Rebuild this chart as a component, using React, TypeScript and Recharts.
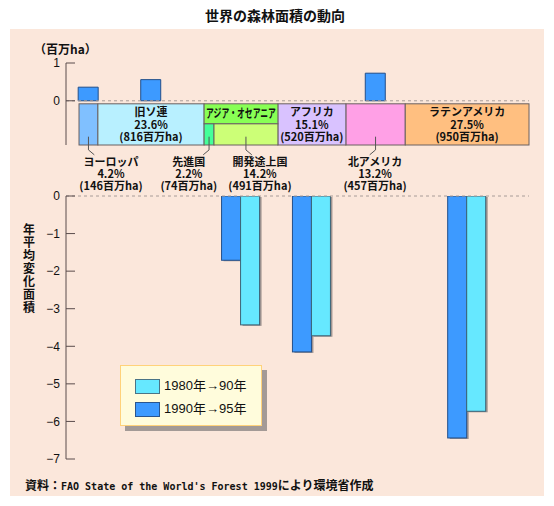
import {
    ComposedChart,
    Bar,
    XAxis,
    YAxis,
    ReferenceArea,
    ReferenceLine,
    ReferenceDot
} from "recharts";

// forest area share by region (%), and area (million ha)
const regions = ["ヨーロッパ", "旧ソ連", "先進国", "開発途上国", "アフリカ", "北アメリカ", "ラテンアメリカ"];
const shares = [4.2, 23.6, 2.2, 14.2, 15.1, 13.2, 27.5];
const areas = [146, 816, 74, 491, 520, 457, 950];

// bar groups (asia-oceania covers developed + developing)
const groups = ["ヨーロッパ", "旧ソ連", "アジア・オセアニア", "アフリカ", "北アメリカ", "ラテンアメリカ"];
const groupSpans = [[0], [1], [2, 3], [4], [5], [6]];
const change8090 = [null, null, -3.43, -3.72, null, -5.73];
const change9095 = [0.36, 0.56, -1.71, -4.15, 0.73, -6.44];

const topTicks = [0, 1];
const bottomTicks = [0, -1, -2, -3, -4, -5, -6, -7];

const legendItems = ["1980年→90年", "1990年→95年"];

const starts: number[] = [];
const ends: number[] = [];
shares.reduce((acc, s, i) => {
    starts.push(acc);
    ends.push(acc + s);
    return acc + s;
}, 0);

const centers = groupSpans.map(
    (span) => (starts[span[0]] + ends[span[span.length - 1]]) / 2
);

const rows = groups.map((g, i) => ({
    name: g,
    x: centers[i],
    a: change8090[i],
    b: change9095[i],
}));
const upRows = rows.filter((r) => r.b !== null && r.b > 0);
const downRows = rows.filter((r) => r.b !== null && r.b < 0);

const COLORS = ["#80C0FF", "#B8F0FF", "#44FF99", "#CCFF77", "#D9C2FF", "#FFA0E6", "#FFBF80"];
const ASIA_HEAD = "#88FF55";
const DARK = "#3D9AFF";
const CYAN = "#66E8FF";

const JP = "'Noto Sans CJK JP', 'Noto Sans', sans-serif";
const NUM = "'Liberation Sans', Arial, sans-serif";

const X_DOMAIN = [-2.89, 100];
const STRIP_TOP = -0.08;
const STRIP_MID = -0.61;
const STRIP_BOTTOM = -1.17;

const fmt = (v: number) => (v < 0 ? "\u2212" + Math.abs(v) : String(v));
const pct = (i: number) => `${shares[i].toFixed(1)}%`;
const ha = (i: number) => `(${areas[i]}百万ha)`;

// rect with text lines centred in it
const stripCell = (lines: string[]) => (p: any) => {
    const cx = p.x + p.width / 2;
    return (
        <g>
            <rect x={p.x} y={p.y} width={p.width} height={p.height} fill={p.fill} stroke="#6a6060" strokeWidth={1} />
            <text textAnchor="middle" fontSize={11} fontWeight="bold" fontFamily={JP} fill="#111">
                {lines.map((l, k) => (
                    <tspan key={k} x={cx} y={p.y + 12.5 + k * 12.5}>{l}</tspan>
                ))}
            </text>
        </g>
    );
};

const headerCell = (text: string) => (p: any) => (
    <g>
        <rect x={p.x} y={p.y} width={p.width} height={p.height} fill={p.fill} stroke="#6a6060" strokeWidth={1} />
        <text
            x={p.x + 2}
            y={p.y + p.height / 2 + 4}
            textLength={p.width - 4}
            lengthAdjust="spacingAndGlyphs"
            fontSize={12}
            fontWeight="bold"
            fontFamily={JP}
            fill="#111"
        >
            {text}
        </text>
    </g>
);

const calloutText = (lines: string[]) => (p: any) => (
    <text textAnchor="middle" fontSize={11} fontWeight="bold" fontFamily={JP} fill="#111">
        {lines.map((l, k) => (
            <tspan key={k} x={p.cx} y={p.cy + 4 + k * 11.8}>{l}</tspan>
        ))}
    </text>
);

const ShadowBar = (p: any) => {
    const { x, y, width, height, fill, stroke } = p;
    if (!height || x == null) return null;
    const top = Math.min(y, y + height);
    const h = Math.abs(height);
    return (
        <g>
            <rect x={x + 2} y={top + 1} width={width} height={h} fill="#a09490" />
            <rect x={x} y={top} width={width} height={h} fill={fill} stroke={stroke} strokeWidth={1} />
        </g>
    );
};

// outside labels for narrow cells: region index, label x (%), leader direction
const callouts = [
    { i: 0, lx: 7.1, dir: 1 },
    { i: 2, lx: 24.4, dir: -1 },
    { i: 3, lx: 40.2, dir: 1 },
    { i: 5, lx: 65.8, dir: -1 },
];

const insideCells = [1, 4, 6];

export default function App() {
    const tickStyle = { fontSize: 12, fontFamily: NUM, fill: "#111" };

    return (
        <div style={{ position: "absolute", left: 0, top: 0, width: 554, height: 506, background: "#fff" }}>
            <div
                style={{
                    position: "absolute", left: 0, top: 5, width: 550, lineHeight: "20px",
                    textAlign: "center", fontSize: 14, fontWeight: "bold", fontFamily: JP, color: "#111",
                }}
            >
                世界の森林面積の動向
            </div>

            <div style={{ position: "absolute", left: 10, top: 29, width: 534, height: 467, background: "#FBE7DB" }} />

            <div
                style={{
                    position: "absolute", left: 34, top: 40, lineHeight: "18px",
                    fontSize: 12, fontWeight: "bold", fontFamily: JP, color: "#111",
                }}
            >
                （百万ha）
            </div>

            <div style={{ position: "absolute", left: 22, top: 222, width: 14 }}>
                {"年平均変化面積".split("").map((c, k) => (
                    <div key={k} style={{ height: 13, lineHeight: "13px", fontSize: 12, fontWeight: "bold", fontFamily: JP, textAlign: "center", color: "#111" }}>
                        {c}
                    </div>
                ))}
            </div>

            {/* lower panel: annual decrease */}
            <div style={{ position: "absolute", left: 0, top: 0 }}>
                <ComposedChart
                    width={554}
                    height={506}
                    data={downRows}
                    margin={{ top: 196, right: 25, bottom: 47, left: 0 }}
                    barGap={0}
                >
                    <XAxis type="number" dataKey="x" domain={X_DOMAIN} hide allowDataOverflow />
                    <YAxis
                        width={66}
                        domain={[-7, 0]}
                        ticks={bottomTicks}
                        tickFormatter={fmt}
                        tickSize={-9}
                        tickMargin={15}
                        allowDataOverflow
                        axisLine={{ stroke: "#5a4c4c" }}
                        tickLine={{ stroke: "#5a4c4c" }}
                        tick={tickStyle}
                    />
                    <ReferenceLine y={0} stroke="#a89c98" strokeDasharray="3 3" />
                    <Bar dataKey="b" fill={DARK} stroke="#224f8a" barSize={19} shape={ShadowBar} isAnimationActive={false} />
                    <Bar dataKey="a" fill={CYAN} stroke="#3c6478" barSize={19} shape={ShadowBar} isAnimationActive={false} />
                </ComposedChart>
            </div>

            {/* upper panel: increase + forest area strip */}
            <div style={{ position: "absolute", left: 0, top: 0 }}>
                <ComposedChart
                    width={554}
                    height={200}
                    data={upRows}
                    margin={{ top: 63, right: 25, bottom: 55, left: 0 }}
                >
                    <XAxis type="number" dataKey="x" domain={X_DOMAIN} hide allowDataOverflow />
                    <YAxis
                        width={66}
                        domain={[STRIP_BOTTOM, 1]}
                        ticks={topTicks}
                        tickFormatter={fmt}
                        tickSize={-9}
                        tickMargin={15}
                        allowDataOverflow
                        axisLine={{ stroke: "#5a4c4c" }}
                        tickLine={{ stroke: "#5a4c4c" }}
                        tick={tickStyle}
                    />
                    <ReferenceLine y={0} stroke="#a89c98" strokeDasharray="3 3" />

                    {[0, 5].map((i) => (
                        <ReferenceArea
                            key={"c" + i}
                            x1={starts[i]}
                            x2={ends[i]}
                            y1={STRIP_BOTTOM}
                            y2={STRIP_TOP}
                            fill={COLORS[i]}
                            fillOpacity={1}
                            shape={stripCell([])}
                        />
                    ))}
                    {insideCells.map((i) => (
                        <ReferenceArea
                            key={"c" + i}
                            x1={starts[i]}
                            x2={ends[i]}
                            y1={STRIP_BOTTOM}
                            y2={STRIP_TOP}
                            fill={COLORS[i]}
                            fillOpacity={1}
                            shape={stripCell([regions[i], pct(i), ha(i)])}
                        />
                    ))}
                    <ReferenceArea
                        x1={starts[2]}
                        x2={ends[3]}
                        y1={STRIP_MID}
                        y2={STRIP_TOP}
                        fill={ASIA_HEAD}
                        fillOpacity={1}
                        shape={headerCell(groups[2])}
                    />
                    {[2, 3].map((i) => (
                        <ReferenceArea
                            key={"c" + i}
                            x1={starts[i]}
                            x2={ends[i]}
                            y1={STRIP_BOTTOM}
                            y2={STRIP_MID}
                            fill={COLORS[i]}
                            fillOpacity={1}
                            shape={stripCell([])}
                        />
                    ))}

                    {callouts.map((c) => {
                        const cx = (starts[c.i] + ends[c.i]) / 2;
                        return [
                            <ReferenceLine
                                key={"v" + c.i}
                                segment={[{ x: cx, y: -0.95 }, { x: cx, y: -1.3 }]}
                                stroke="#555"
                                ifOverflow="visible"
                            />,
                            <ReferenceLine
                                key={"d" + c.i}
                                segment={[{ x: cx, y: -1.3 }, { x: cx + c.dir * 1.3, y: -1.43 }]}
                                stroke="#555"
                                ifOverflow="visible"
                            />,
                            <ReferenceDot
                                key={"t" + c.i}
                                x={c.lx}
                                y={-1.62}
                                r={0}
                                ifOverflow="visible"
                                shape={calloutText([regions[c.i], pct(c.i), ha(c.i)])}
                            />,
                        ];
                    })}

                    <Bar dataKey="b" fill={DARK} stroke="#224f8a" barSize={20} isAnimationActive={false} />
                </ComposedChart>
            </div>

            {/* legend */}
            <div style={{ position: "absolute", left: 125, top: 370, width: 142, height: 61, background: "#a39a96" }} />
            <div
                style={{
                    position: "absolute", left: 120, top: 365, width: 140, height: 59,
                    background: "#FFFCDC", border: "1px solid #FFD27A",
                }}
            >
                {legendItems.map((t, k) => (
                    <div key={k} style={{ position: "absolute", left: 14, top: 12 + k * 23, display: "flex", alignItems: "center" }}>
                        <div
                            style={{
                                width: 23, height: 13, background: k === 0 ? CYAN : DARK,
                                border: k === 0 ? "1px solid #4a7486" : "1px solid #2a558e",
                            }}
                        />
                        <span style={{ marginLeft: 4, fontSize: 13, fontFamily: `${NUM.split(",")[0]}, ${JP}`, color: "#111", lineHeight: "16px" }}>
                            {t}
                        </span>
                    </div>
                ))}
            </div>

            <div
                style={{
                    position: "absolute", left: 25, top: 477, lineHeight: "16px",
                    fontWeight: "bold", color: "#111", whiteSpace: "nowrap",
                }}
            >
                <span style={{ fontSize: 12, fontFamily: JP }}>資料：</span>
                <span style={{ fontSize: 10, fontFamily: "'DejaVu Sans Mono', monospace" }}>FAO State of the World's Forest 1999</span>
                <span style={{ fontSize: 12, fontFamily: JP }}>により環境省作成</span>
            </div>
        </div>
    );
}
